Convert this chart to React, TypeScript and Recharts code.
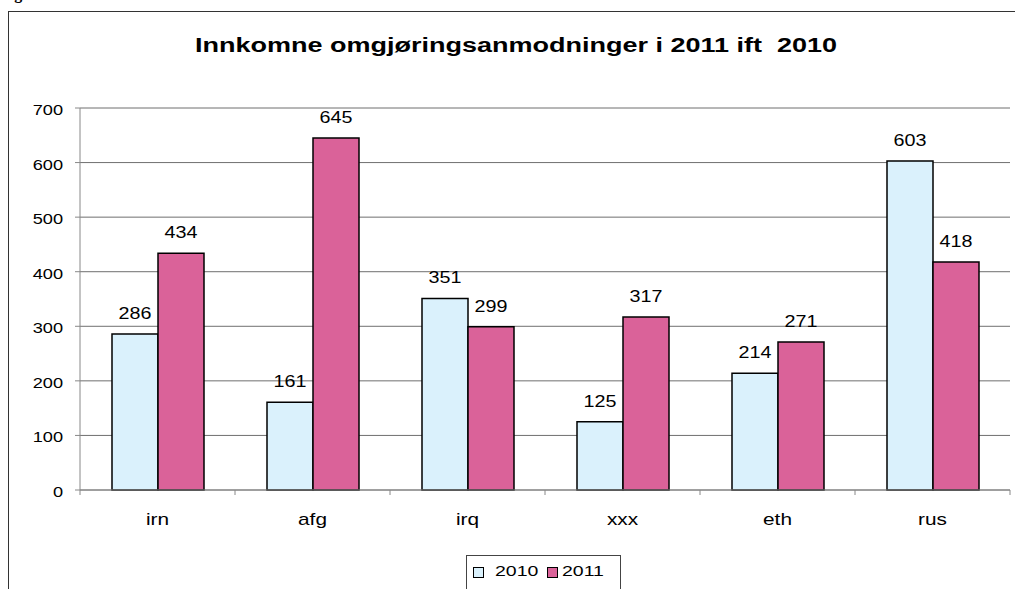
import React from 'react';
import { BarChart, Bar, XAxis, YAxis, CartesianGrid, LabelList, Legend } from 'recharts';

const categories = ['irn', 'afg', 'irq', 'xxx', 'eth', 'rus'];
const values2010 = [286, 161, 351, 125, 214, 603];
const values2011 = [434, 645, 299, 317, 271, 418];
const yTicks = [0, 100, 200, 300, 400, 500, 600, 700];
const seriesNames = ['2010', '2011'];
const titleText = 'Innkomne omgjøringsanmodninger i 2011 ift  2010';

const data = categories.map((c, i) => ({ cat: c, v2010: values2010[i], v2011: values2011[i] }));

const W = 1015;
const H = 589;
const MARGIN = { top: 108, right: 5, bottom: 29, left: 20 };
const YAXIS_W = 60;
const BAND = (W - MARGIN.left - MARGIN.right - YAXIS_W) / categories.length;
const FONT = '"Liberation Sans", Arial, sans-serif';
const SX = 1.3;
const BLUE = '#DAF1FC';
const PINK = '#DA6299';
const GRID = '#6f6f6f';
const AXIS = '#888888';
const BORDER_LIGHT = '#bdbdb0';

const YTick = (props: any) => {
  const { x, y, payload } = props;
  return (
    <text
      transform={`translate(${x},${y + 7}) scale(${SX},1)`}
      textAnchor="end"
      fontSize={14}
      fontFamily={FONT}
      fill="#000"
    >
      {payload.value}
    </text>
  );
};

const XTick = (props: any) => {
  const { x, y, payload, index } = props;
  const last = index === categories.length - 1;
  return (
    <g>
      <line x1={x - BAND / 2} x2={x - BAND / 2} y1={y} y2={y + 5} stroke={AXIS} />
      {last && <line x1={x + BAND / 2} x2={x + BAND / 2} y1={y} y2={y + 5} stroke={AXIS} />}
      <text
        transform={`translate(${x},${y + 35}) scale(${SX},1)`}
        textAnchor="middle"
        fontSize={16}
        fontFamily={FONT}
        fill="#000"
      >
        {payload.value}
      </text>
    </g>
  );
};

const BarLabel = (props: any) => {
  const { x, y, width, value } = props;
  return (
    <text
      transform={`translate(${x + width / 2},${y - 15}) scale(${SX * 0.95},1)`}
      textAnchor="middle"
      fontSize={16}
      fontFamily={FONT}
      fill="#000"
    >
      {value}
    </text>
  );
};

const LegendContent = (props: any) => {
  const payload = props.payload || [];
  return (
    <div
      style={{
        position: 'relative',
        width: 155,
        height: 40,
        border: '1px solid #444',
        boxSizing: 'border-box',
        background: '#fff',
      }}
    >
      {payload.map((p: any, i: number) => (
        <React.Fragment key={i}>
          <div
            style={{
              position: 'absolute',
              left: 6 + i * 74,
              top: 11,
              width: 9,
              height: 9,
              border: '1px solid #000',
              background: p.color,
            }}
          />
          <div
            style={{
              position: 'absolute',
              left: 28 + i * 67,
              top: 7,
              fontSize: 15,
              lineHeight: '15px',
              fontFamily: FONT,
              color: '#000',
              transform: `scaleX(${SX})`,
              transformOrigin: 'left center',
              whiteSpace: 'nowrap',
            }}
          >
            {p.value}
          </div>
        </React.Fragment>
      ))}
    </div>
  );
};

export default function App() {
  return (
    <div
      style={{
        position: 'absolute',
        left: 0,
        top: 0,
        width: W,
        height: H,
        overflow: 'hidden',
        background: '#fff',
        fontFamily: FONT,
      }}
    >
      <div
        style={{
          position: 'absolute',
          left: 0,
          top: -14.5,
          fontFamily: '"Liberation Serif", serif',
          fontWeight: 'bold',
          fontSize: 16,
          lineHeight: '16px',
          whiteSpace: 'nowrap',
        }}
      >
        Figur
      </div>
      <div
        style={{
          position: 'absolute',
          left: 8,
          top: 11,
          width: W + 20,
          height: H + 20,
          border: '1px solid #333',
          boxSizing: 'border-box',
        }}
      />
      <div
        style={{
          position: 'absolute',
          left: 15.5,
          top: 35,
          width: 1000,
          textAlign: 'center',
          fontWeight: 'bold',
          fontSize: 20,
          lineHeight: '20px',
          fontFamily: FONT,
          transform: 'scaleX(1.35)',
          transformOrigin: 'center',
          whiteSpace: 'pre',
        }}
      >
        {titleText}
      </div>
      <div style={{ position: 'absolute', left: 0, top: 0 }}>
        <BarChart
          width={W}
          height={H}
          data={data}
          margin={MARGIN}
          barCategoryGap={32}
          barGap={0}
        >
          <CartesianGrid vertical={false} stroke={GRID} strokeWidth={1} yAxisId="l" />
          <XAxis
            dataKey="cat"
            xAxisId="b"
            height={30}
            interval={0}
            tickSize={0}
            tickMargin={0}
            tickLine={false}
            axisLine={{ stroke: AXIS }}
            tick={<XTick />}
          />
          <XAxis
            dataKey="cat"
            xAxisId="t"
            orientation="top"
            height={0}
            tick={false}
            tickLine={false}
            axisLine={{ stroke: BORDER_LIGHT }}
          />
          <YAxis
            yAxisId="l"
            width={YAXIS_W}
            domain={[0, 700]}
            ticks={yTicks}
            interval={0}
            tickSize={5}
            tickMargin={12}
            tickLine={{ stroke: AXIS }}
            axisLine={{ stroke: AXIS }}
            tick={<YTick />}
          />
          <YAxis
            yAxisId="r"
            orientation="right"
            width={0}
            domain={[0, 700]}
            tick={false}
            tickLine={false}
            axisLine={{ stroke: BORDER_LIGHT }}
          />
          <Legend
            content={<LegendContent />}
            wrapperStyle={{ position: 'absolute', left: 466, top: 555, width: 155, height: 40, bottom: 'auto', right: 'auto' }}
          />
          <Bar
            dataKey="v2010"
            name={seriesNames[0]}
            xAxisId="b"
            yAxisId="l"
            fill={BLUE}
            stroke="#000"
            strokeWidth={1.5}
            isAnimationActive={false}
          >
            <LabelList dataKey="v2010" content={<BarLabel />} />
          </Bar>
          <Bar
            dataKey="v2011"
            name={seriesNames[1]}
            xAxisId="b"
            yAxisId="l"
            fill={PINK}
            stroke="#000"
            strokeWidth={1.5}
            isAnimationActive={false}
          >
            <LabelList dataKey="v2011" content={<BarLabel />} />
          </Bar>
        </BarChart>
      </div>
    </div>
  );
}
